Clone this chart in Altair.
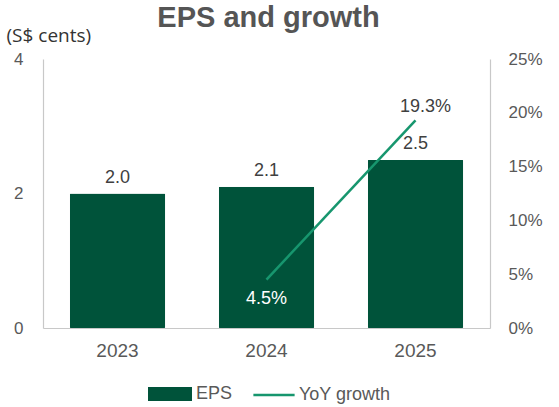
import altair as alt
import pandas as pd

years = ["2023", "2024", "2025"]
eps = [2.0, 2.1, 2.5]
growth = [None, 0.045, 0.193]

df = pd.DataFrame({
    "year": years,
    "eps": eps,
    "growth": growth,
    "s1": ["EPS"] * 3,
    "s2": ["YoY growth"] * 3,
})

FONT = "Liberation Sans"
GRAY = "#595959"
BAR = "#00533A"
LINE = "#17966E"

x = alt.X("year:N", sort=years,
          scale=alt.Scale(paddingInner=0.36, paddingOuter=0.18),
          axis=alt.Axis(title=None, labelAngle=0, ticks=False, labelPadding=13,
                        labelFontSize=19, labelColor=GRAY, labelFont=FONT,
                        domainColor="#c8c8c8", domainWidth=1.2))

base = alt.Chart(df).encode(x=x)

left_scale = alt.Scale(domain=[0, 4], nice=False)
right_scale = alt.Scale(domain=[0, 0.25], nice=False)

y_left = alt.Y("eps:Q", scale=left_scale,
               axis=alt.Axis(values=[0, 2, 4], format="d", grid=False, ticks=False,
                             labelPadding=20, labelFlush=False,
                             labelFontSize=17, labelColor=GRAY, labelFont=FONT,
                             domainColor="#c8c8c8", domainWidth=1.2,
                             title="(S$ cents)", titleAngle=0, titleX=-37, titleY=-18,
                             titleAlign="left", titleBaseline="alphabetic",
                             titleFontSize=19, titleFontWeight="normal",
                             titleColor="#333333", titleFont="Open Sans"))

bars = base.mark_bar(cornerRadius=1).encode(
    y=y_left,
    fill=alt.Fill("s1:N", scale=alt.Scale(domain=["EPS"], range=[BAR]),
                  legend=alt.Legend(title=None, orient="none", legendX=112, legendY=320,
                                    symbolType="M-1.5,-0.48L1.5,-0.48L1.5,0.48L-1.5,0.48Z",
                                    symbolSize=860, symbolStrokeWidth=0,
                                    labelFontSize=18, labelColor=GRAY, labelFont=FONT,
                                    labelOffset=11)),
)

bar_text = base.mark_text(dy=-11, baseline="alphabetic", fontSize=18,
                          color="#404040", font=FONT).encode(
    y=alt.Y("eps:Q", scale=left_scale),
    text=alt.Text("eps:Q", format=".1f"),
)

y_right = alt.Y("growth:Q", scale=right_scale,
                axis=alt.Axis(orient="right", values=[0, 0.05, 0.10, 0.15, 0.20, 0.25],
                              format=".0%", grid=False, ticks=False, labelPadding=18,
                              labelFlush=False,
                              labelFontSize=17, labelColor=GRAY, labelFont=FONT,
                              domainColor="#c8c8c8", domainWidth=1.2, title=None))

line = base.mark_line(strokeWidth=2.5).encode(
    y=y_right,
    stroke=alt.Stroke("s2:N", scale=alt.Scale(domain=["YoY growth"], range=[LINE]),
                      legend=alt.Legend(title=None, orient="none", legendX=209, legendY=314,
                                        symbolType="stroke",
                                        symbolSize=1700, symbolStrokeWidth=2.5,
                                        labelFontSize=18, labelColor=GRAY, labelFont=FONT,
                                        labelOffset=3)),
)

y_r2 = alt.Y("growth:Q", scale=right_scale)

low_text = base.mark_text(fontSize=18, font=FONT, baseline="alphabetic", dy=24,
                          color="white").encode(
    y=y_r2, text=alt.Text("growth:Q", format=".1%"),
).transform_filter("isValid(datum.growth) && datum.growth < 0.1")

high_text = base.mark_text(fontSize=18, font=FONT, baseline="alphabetic", dy=-8, dx=10,
                           color="#404040").encode(
    y=y_r2, text=alt.Text("growth:Q", format=".1%"),
).transform_filter("isValid(datum.growth) && datum.growth >= 0.1")

left = alt.layer(bars, bar_text)
right = alt.layer(line, low_text, high_text)

chart = alt.layer(left, right).resolve_scale(y="independent").properties(
    width=447, height=269,
    padding={"left": 43, "top": 59, "right": 69, "bottom": 79},
    autosize=alt.AutoSizeParams(type="none"),
    title=alt.TitleParams("EPS and growth", fontSize=29, fontWeight="bold",
                          color="#555555", font=FONT, anchor="middle", offset=-7, dx=2),
).configure_view(stroke=None)

chart.save("out.html", embed_options={"renderer": "svg", "actions": False})
